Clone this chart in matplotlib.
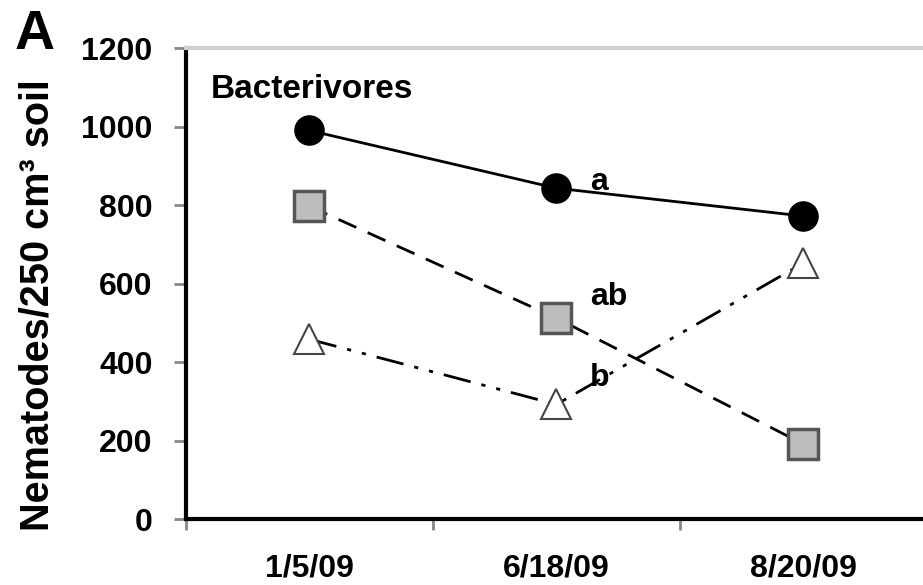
import matplotlib
matplotlib.use('Agg')
import matplotlib.pyplot as plt

plt.rcParams['font.family'] = ['Liberation Sans', 'DejaVu Sans']
plt.rcParams['font.weight'] = 'bold'

dates = ['1/5/09', '6/18/09', '8/20/09']
circles = [990, 843, 772]
squares = [797, 512, 191]
triangles = [458, 292, 652]
letters = ['a', 'ab', 'b']
letter_y = [860, 565, 360]

fig = plt.figure(figsize=(9.23, 5.85), dpi=100)
ax = fig.add_axes([0.2015, 0.1128, 0.80, 0.805])

x = [0.5, 1.5, 2.5]

ax.plot(x, triangles, color='black', lw=2, dashes=(10, 4, 1.5, 4, 1.5, 4),
        marker='^', ms=22, mfc='white', mec='#444444', mew=1.5, zorder=3)
ax.plot(x, squares, color='black', lw=2, dashes=(7, 4.5),
        marker='s', ms=22, mfc='#bdbdbd', mec='#555555', mew=2.5, zorder=4)
ax.plot(x, circles, color='black', lw=2, ls='-',
        marker='o', ms=21, mfc='black', mec='black', zorder=5)

for lab, ly in zip(letters, letter_y):
    ax.text(1.635, ly, lab, fontsize=23, fontweight='bold', ha='left', va='center')

ax.text(0.10, 1095, 'Bacterivores', fontsize=24, fontweight='bold', ha='left', va='center')

ax.set_xlim(0, 2.99)
ax.set_ylim(0, 1200)
ax.set_yticks(range(0, 1201, 200))
ax.tick_params(axis='y', direction='out', length=9, width=2, color='#888888',
               labelsize=23, pad=15)

ax.set_xticks([0, 1, 2])
ax.set_xticklabels([])
ax.set_xticks(x, minor=True)
ax.set_xticklabels(dates, minor=True)
ax.tick_params(axis='x', which='major', direction='out', length=8, width=2, color='#888888')
ax.tick_params(axis='x', which='minor', length=0, labelsize=23, pad=25)

for lab in ax.get_yticklabels() + ax.get_xticklabels(minor=True):
    lab.set_fontweight('bold')

ax.spines['left'].set_linewidth(3)
ax.spines['bottom'].set_linewidth(3)
ax.spines['right'].set_visible(False)
ax.spines['top'].set_color('#d0d0d0')
ax.spines['top'].set_linewidth(3)

ax.set_ylabel('Nematodes/250 cm³ soil', fontsize=28.5, fontweight='bold')
ax.yaxis.set_label_coords(-0.176, 0.454)

fig.text(0.038, 0.94, 'A', fontsize=40, fontweight='bold', ha='center', va='center')

fig.savefig('out.png', dpi=100)
